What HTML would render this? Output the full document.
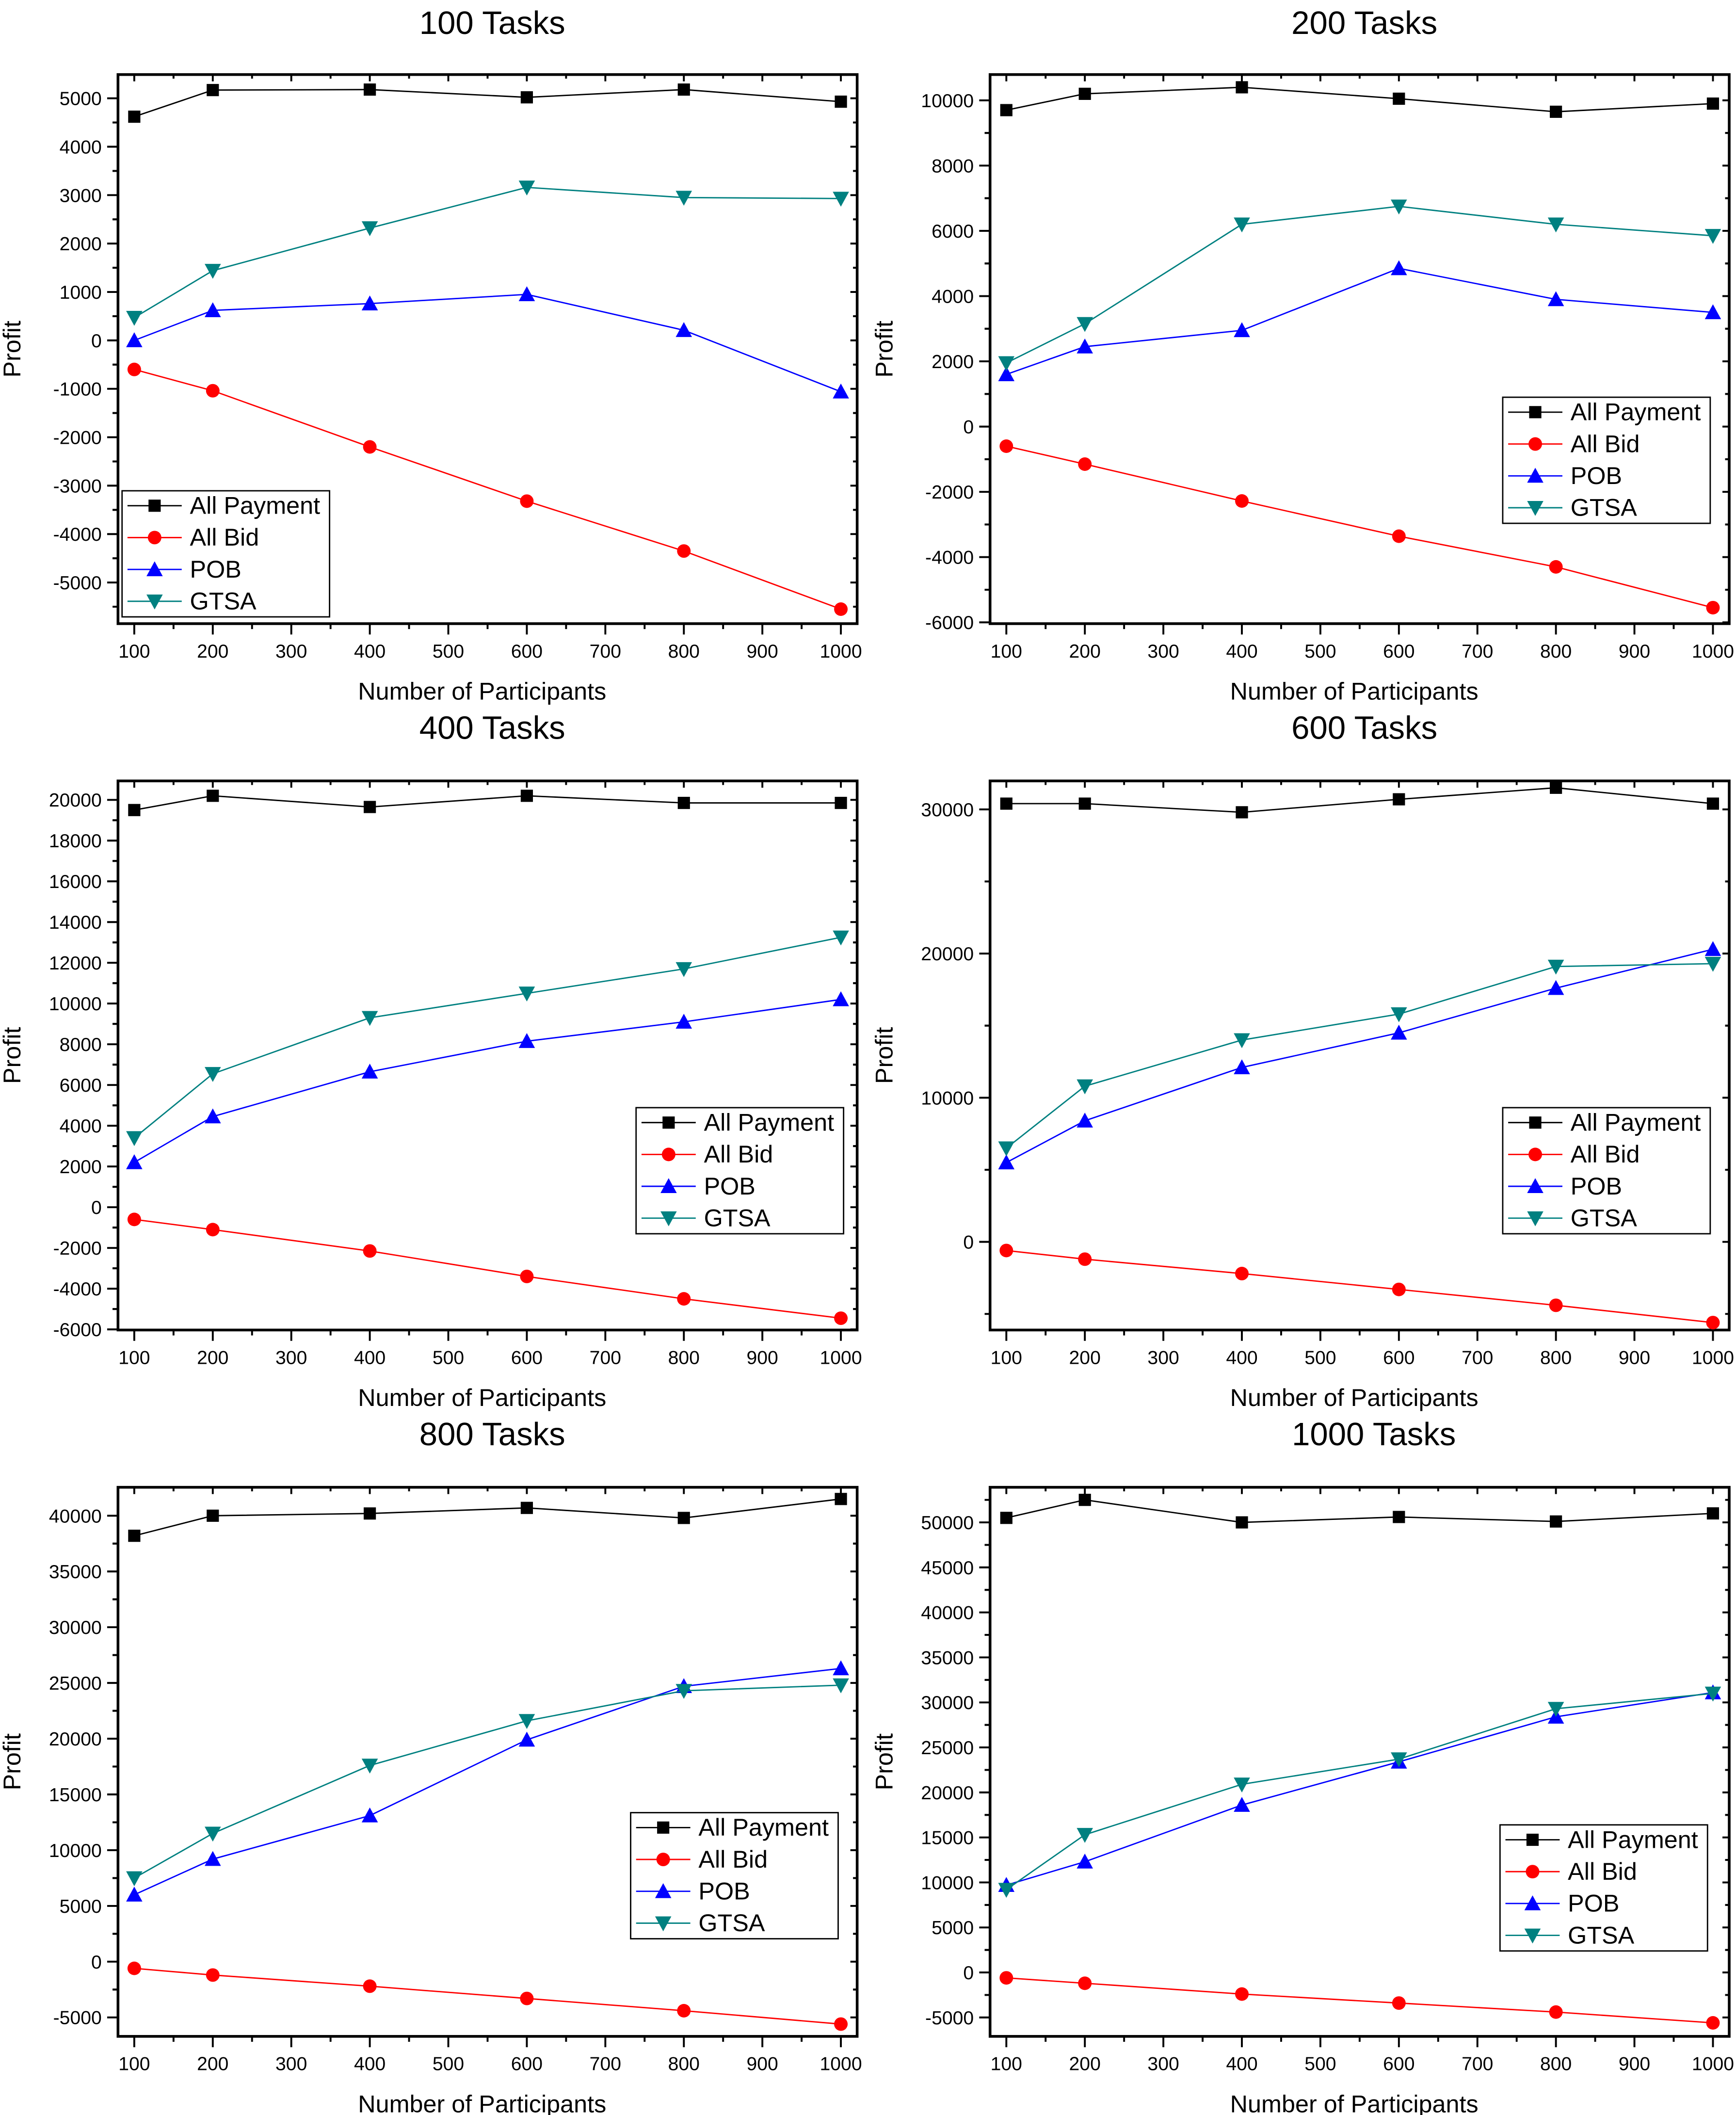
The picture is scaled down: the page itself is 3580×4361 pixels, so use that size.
<!DOCTYPE html>
<html><head><meta charset="utf-8"><style>
html,body{margin:0;padding:0;background:#fff}
svg{display:block}
text{font-family:"Liberation Sans",Arial,sans-serif;fill:#000}
</style></head><body>
<svg id="chart" width="3580" height="4361" viewBox="0 0 1280 1560" preserveAspectRatio="none" xmlns="http://www.w3.org/2000/svg"></svg>
<script>
const xCats = [100,200,400,600,800,1000];
const xTicks = [100,200,300,400,500,600,700,800,900,1000];
const seriesNames = ["All Payment","All Bid","POB","GTSA"];
const titles = ["100 Tasks","200 Tasks","400 Tasks","600 Tasks","800 Tasks","1000 Tasks"];
const p1AP=[4620,5170,5180,5020,5180,4930], p1AB=[-600,-1040,-2200,-3320,-4350,-5550], p1POB=[0,620,760,950,210,-1060], p1GT=[470,1440,2320,3160,2950,2930];
const p2AP=[9700,10200,10400,10050,9650,9900], p2AB=[-600,-1150,-2280,-3360,-4300,-5550], p2POB=[1600,2450,2950,4850,3900,3500], p2GT=[1950,3150,6200,6750,6200,5850];
const p3AP=[19500,20200,19650,20200,19850,19850], p3AB=[-600,-1100,-2150,-3400,-4500,-5450], p3POB=[2200,4450,6650,8150,9100,10200], p3GT=[3400,6550,9300,10500,11700,13250];
const p4AP=[30400,30400,29800,30700,31500,30400], p4AB=[-600,-1200,-2200,-3300,-4400,-5600], p4POB=[5500,8400,12100,14500,17600,20300], p4GT=[6500,10800,14000,15800,19100,19300];
const p5AP=[38200,40000,40200,40700,39800,41500], p5AB=[-600,-1200,-2200,-3300,-4400,-5600], p5POB=[6000,9200,13100,19900,24700,26300], p5GT=[7500,11500,17600,21600,24300,24800];
const p6AP=[50500,52500,50000,50600,50100,51000], p6AB=[-600,-1200,-2400,-3400,-4400,-5600], p6POB=[9700,12300,18600,23400,28400,31100], p6GT=[9200,15300,20900,23700,29300,31000];
const yTicks1=[-5000,-4000,-3000,-2000,-1000,0,1000,2000,3000,4000,5000];
const yTicks2=[-6000,-4000,-2000,0,2000,4000,6000,8000,10000];
const yTicks3=[-6000,-4000,-2000,0,2000,4000,6000,8000,10000,12000,14000,16000,18000,20000];
const yTicks4=[0,10000,20000,30000];
const yTicks5=[-5000,0,5000,10000,15000,20000,25000,30000,35000,40000];
const yTicks6=[-5000,0,5000,10000,15000,20000,25000,30000,35000,40000,45000,50000];

const colors=["#000","#ff0000","#0000ff","#008080"];
const NS="http://www.w3.org/2000/svg";
const svg=document.getElementById('chart');
function mk(tag,attrs,parent){const e=document.createElementNS(NS,tag);for(const k in attrs)e.setAttribute(k,attrs[k]);(parent||svg).appendChild(e);return e;}

const panels=[
 {L:87,R:632,T:55,B:460,y0:-5850,y1:5490,ticks:yTicks1,data:[p1AP,p1AB,p1POB,p1GT],leg:[90,362],tx:363,ty:17},
 {L:730,R:1275,T:55,B:460,y0:-6040,y1:10790,ticks:yTicks2,data:[p2AP,p2AB,p2POB,p2GT],leg:[1108,293],tx:1006,ty:17},
 {L:87,R:632,T:576,B:981,y0:-6030,y1:20930,ticks:yTicks3,data:[p3AP,p3AB,p3POB,p3GT],leg:[469,817],tx:363,ty:537},
 {L:730,R:1275,T:576,B:981,y0:-6115,y1:31975,ticks:yTicks4,data:[p4AP,p4AB,p4POB,p4GT],leg:[1108,817],tx:1006,ty:537},
 {L:87,R:632,T:1097,B:1502,y0:-6700,y1:42550,ticks:yTicks5,data:[p5AP,p5AB,p5POB,p5GT],leg:[465,1337],tx:363,ty:1058},
 {L:730,R:1275,T:1097,B:1502,y0:-7100,y1:53900,ticks:yTicks6,data:[p6AP,p6AB,p6POB,p6GT],leg:[1106,1346],tx:1013,ty:1058}
];

function marker(g,k,x,y){
 const c=colors[k];
 if(k===0) return mk('rect',{x:x-4.5,y:y-4.5,width:9,height:9,fill:c},g);
 if(k===1) return mk('circle',{cx:x,cy:y,r:5,fill:c},g);
 if(k===2) return mk('polygon',{points:`${x},${y-6} ${x-6},${y+5} ${x+6},${y+5}`,fill:c},g);
 return mk('polygon',{points:`${x},${y+6} ${x-6},${y-5} ${x+6},${y-5}`,fill:c},g);
}

panels.forEach((p,i)=>{
 const g=mk('g',{});
 
 
 const xs=v=>p.L+12+(v-100)*(p.R-p.L-24)/900;
 const ys=v=>p.B-(v-p.y0)*(p.B-p.T)/(p.y1-p.y0);
 const t=mk('text',{x:p.tx,y:p.ty+8,'font-size':24,'text-anchor':'middle'},g);t.textContent=titles[i];
 
 
 const box=mk('rect',{x:p.L,y:p.T,width:p.R-p.L,height:p.B-p.T,fill:'none',stroke:'#000','stroke-width':2},g);
 
 
 xTicks.forEach(v=>{const x=xs(v);
  mk('line',{x1:x,x2:x,y1:p.B,y2:p.B+8,stroke:'#000','stroke-width':1.4},g);
  mk('line',{x1:x,x2:x,y1:p.T,y2:p.T+5,stroke:'#000','stroke-width':1.4},g);
  const xm=xs(v+50);
  if(v<1000){
   mk('line',{x1:xm,x2:xm,y1:p.B,y2:p.B+4,stroke:'#000','stroke-width':1.4},g);
   mk('line',{x1:xm,x2:xm,y1:p.T,y2:p.T+3,stroke:'#000','stroke-width':1.4},g);
  }
  const tt=mk('text',{x:x,y:p.B+25,'font-size':14,'text-anchor':'middle'},g);tt.textContent=v;
  
  
 });
 const step=p.ticks[1]-p.ticks[0];
 p.ticks.forEach(v=>{const y=ys(v);
  mk('line',{x1:p.L-8,x2:p.L,y1:y,y2:y,stroke:'#000','stroke-width':1.4},g);
  mk('line',{x1:p.R,x2:p.R-5,y1:y,y2:y,stroke:'#000','stroke-width':1.4},g);
  [v-step/2,v+step/2].forEach(m=>{const ym=ys(m);
   if(ym>p.T+1&&ym<p.B-1){
    mk('line',{x1:p.L-4,x2:p.L,y1:ym,y2:ym,stroke:'#000','stroke-width':1.4},g);
    mk('line',{x1:p.R,x2:p.R-3,y1:ym,y2:ym,stroke:'#000','stroke-width':1.4},g);
   }});
  const tt=mk('text',{x:p.L-12,y:y+5,'font-size':14,'text-anchor':'end'},g);tt.textContent=v;
  
  
 });
 const xl=mk('text',{x:(p.L+p.R)/2-4,y:p.B+56,'font-size':18,'text-anchor':'middle'},g);xl.textContent='Number of Participants';
 
 
 const cy=(p.T+p.B)/2;
 const yl=mk('text',{x:p.L-72,y:cy,'font-size':18,'text-anchor':'middle',transform:`rotate(-90 ${p.L-72} ${cy})`},g);yl.textContent='Profit';
 
 
 p.data.forEach((arr,k)=>{
  const sg=mk('g',{},g);
  
  
  mk('polyline',{points:arr.map((v,j)=>xs(xCats[j])+','+ys(v)).join(' '),fill:'none',stroke:colors[k],'stroke-width':1},sg);
  arr.forEach((v,j)=>{const m=marker(sg,k,xs(xCats[j]),ys(v));
   
   });
 });
 const lg=mk('g',{},g);
 
 
 const [lx,ly]=p.leg;
 mk('rect',{x:lx,y:ly,width:153,height:93,fill:'#fff',stroke:'#000','stroke-width':1},lg);
 seriesNames.forEach((n,k)=>{const yy=ly+11+k*23.5;
  mk('line',{x1:lx+4,x2:lx+44,y1:yy,y2:yy,stroke:colors[k]},lg);
  marker(lg,k,lx+24,yy);
  const tt=mk('text',{x:lx+50,y:yy+6,'font-size':18},lg);tt.textContent=n;
  
  
 });
});
</script>
</body></html>
